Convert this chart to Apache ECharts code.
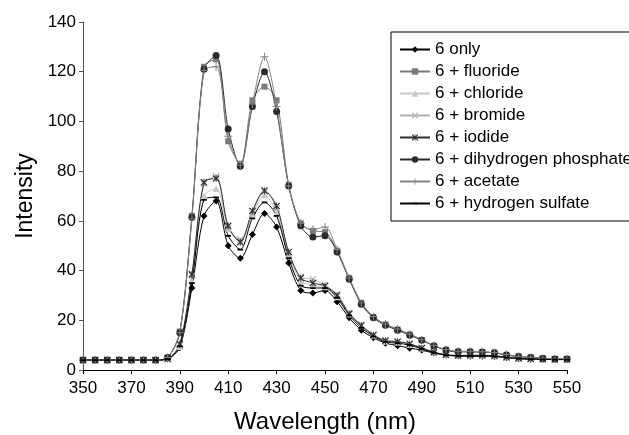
<!DOCTYPE html>
<html>
<head>
<meta charset="utf-8">
<script src="https://cdn.jsdelivr.net/npm/echarts@6/dist/echarts.min.js"></script>
<style>
html,body{margin:0;padding:0;background:#fff;}
#chart{width:629px;height:435px;}
</style>
</head>
<body>
<div id="chart"></div>
<script>
var wavelengths = [350,355,360,365,370,375,380,385,390,395,400,405,410,415,420,425,430,435,440,445,450,455,460,465,470,475,480,485,490,495,500,505,510,515,520,525,530,535,540,545,550];
var xTicks = [350,370,390,410,430,450,470,490,510,530,550];
var yTicks = [0,20,40,60,80,100,120,140];

var only6      = [4,4,4,4,4,4,4,4.5,9,33,62,68,50,45,54.5,63,57.5,43,32,31,32,27.5,21,16,13,10.8,9.8,8.8,8,6.8,6,5.6,5.5,5.5,5.4,5,4.5,4.3,4.2,4.2,4.2];
var fluoride   = [4,4,4,4,4,4,4,5,15.5,62,122,125,92,83,108.5,114,108.5,74.5,59,56,55.5,48,37,27,21.3,18.3,16.3,14.3,12.1,9.8,8.1,7.4,7.4,7.2,7,6.1,5.5,5.1,4.7,4.4,4.4];
var chloride   = [4,4,4,4,4,4,4,4.5,9.5,36,70,73,57,51.5,62,70.5,63,46,36,34,33.5,29.5,22.5,17.8,14,11.6,11.2,10.3,8.7,7.1,6.1,5.8,5.8,5.8,5.6,5.1,4.7,4.5,4.4,4.3,4.3];
var bromide    = [4,4,4,4,4,4,4,4.5,10,38,75,78,57,52.5,63,72.5,65,46.5,37.5,36.5,34,30.5,23,18.2,14.3,12,11.5,10.6,9,7.3,6.2,5.9,6,6,5.8,5.2,4.8,4.5,4.4,4.3,4.3];
var iodide     = [4,4,4,4,4,4,4,4.5,10.5,38.5,75.5,77,58,51.5,64,72,66,47.5,37,35,33.8,30,22.6,17.9,14,11.8,11.4,10.5,8.8,7.1,6.1,5.8,5.9,5.9,5.7,5.1,4.7,4.5,4.4,4.3,4.3];
var dhp        = [4,4,4,4,4,4,4,5,15,61.5,121,126.5,97,82,106,120,104,74,58,53.5,54,47.5,36.5,26.5,21,18,16,14,12,9.7,8,7.3,7.3,7.2,6.9,6,5.4,5,4.6,4.4,4.4];
var acetate    = [4,4,4,4,4,4,4,5,15,61,120.5,122,94,82.5,107,126,106,74,59,56.5,57.5,48.5,37,27,21.5,18.5,16.5,14.5,12.2,9.9,8.2,7.5,7.5,7.3,7,6.2,5.5,5.1,4.7,4.4,4.4];
var hsulfate   = [4,4,4,4,4,4,4,4.5,9.5,35,68.5,69.5,54,48.5,61,67.5,62,45,34,33,33,29,22,17,13.6,11.3,10.8,10,8.5,7,6,5.7,5.7,5.7,5.5,5,4.6,4.4,4.3,4.2,4.2];

var seriesNames = ['6 only','6 + fluoride','6 + chloride','6 + bromide','6 + iodide','6 + dihydrogen phosphate','6 + acetate','6 + hydrogen sulfate'];
var seriesData = [only6, fluoride, chloride, bromide, iodide, dhp, acetate, hsulfate];

var X_PATH = 'path://M0,1.2L1.2,0L10,8.8L8.8,10Z M8.8,0L10,1.2L1.2,10L0,8.8Z';
var AST_PATH = 'path://M0,1.2L1.2,0L10,8.8L8.8,10Z M8.8,0L10,1.2L1.2,10L0,8.8Z M4.4,0H5.6V10H4.4Z';
var PLUS_PATH = 'path://M4.4,0H5.6V4.4H10V5.6H5.6V10H4.4V5.6H0V4.4H4.4Z';
var DASH_PATH = 'path://M0,0L0,0Z M10,10L10,10Z M1.5,4H8.5V6.2H1.5Z';

var styles = [
  {color:'#000000', symbol:'diamond', size:7},
  {color:'#7a7a7a', symbol:'rect', size:6},
  {color:'#c8c8c8', symbol:'triangle', size:7},
  {color:'#b0b0b0', symbol:X_PATH, size:7},
  {color:'#2e2e2e', symbol:AST_PATH, size:7},
  {color:'#2a2a2a', symbol:'circle', size:7},
  {color:'#858585', symbol:PLUS_PATH, size:8},
  {color:'#000000', symbol:DASH_PATH, size:8}
];

function pairs(arr){
  var out = [];
  for (var i = 0; i < wavelengths.length; i++) out.push([wavelengths[i], arr[i]]);
  return out;
}

var FONT = 'Arial, "Liberation Sans", sans-serif';

var series = seriesNames.map(function(name, k){
  var s = styles[k];
  return {
    name: name,
    type: 'line',
    data: pairs(seriesData[k]),
    smooth: 0.3,
    symbol: s.symbol,
    symbolSize: s.size,
    symbolKeepAspect: true,
    showAllSymbol: true,
    lineStyle: {color: s.color, width: 1},
    itemStyle: {color: s.color, borderWidth: 0},
    emphasis: {disabled: true},
    animation: false
  };
});

var chart = echarts.init(document.getElementById('chart'), null, {renderer:'canvas'});
chart.setOption({
  backgroundColor: '#ffffff',
  animation: false,
  textStyle: {fontFamily: FONT},
  grid: {left: 83, right: 62, top: 22, bottom: 65, containLabel: false, outerBoundsMode: 'none'},
  xAxis: {
    type: 'value',
    min: xTicks[0],
    max: xTicks[xTicks.length-1],
    interval: xTicks[1]-xTicks[0],
    name: 'Wavelength (nm)',
    nameLocation: 'middle',
    nameGap: 40,
    nameTextStyle: {fontSize: 24, color: '#000', fontFamily: FONT},
    axisLine: {show: true, lineStyle: {color: '#000', width: 1}},
    axisTick: {show: true, inside: false, length: 4, lineStyle: {color: '#000'}},
    axisLabel: {fontSize: 17, color: '#000', margin: 10, fontFamily: FONT},
    splitLine: {show: false}
  },
  yAxis: {
    type: 'value',
    min: yTicks[0],
    max: yTicks[yTicks.length-1],
    interval: yTicks[1]-yTicks[0],
    name: 'Intensity',
    nameLocation: 'middle',
    nameGap: 46,
    nameTextStyle: {fontSize: 23, color: '#000', fontFamily: FONT},
    axisLine: {show: true, lineStyle: {color: '#555', width: 1}},
    axisTick: {show: true, inside: false, length: 4, lineStyle: {color: '#555'}},
    axisLabel: {fontSize: 17, color: '#000', margin: 7, fontFamily: FONT},
    splitLine: {show: false}
  },
  legend: {
    orient: 'vertical',
    left: 391,
    top: 32,
    data: seriesNames,
    itemWidth: 30,
    itemHeight: 8,
    itemGap: 5,
    padding: [9, 40, 9, 8],
    borderColor: '#000',
    borderWidth: 1,
    backgroundColor: '#fff',
    textStyle: {fontSize: 17, color: '#000', lineHeight: 17, fontFamily: FONT},
    selectedMode: false
  },
  series: series
});
</script>
</body>
</html>
